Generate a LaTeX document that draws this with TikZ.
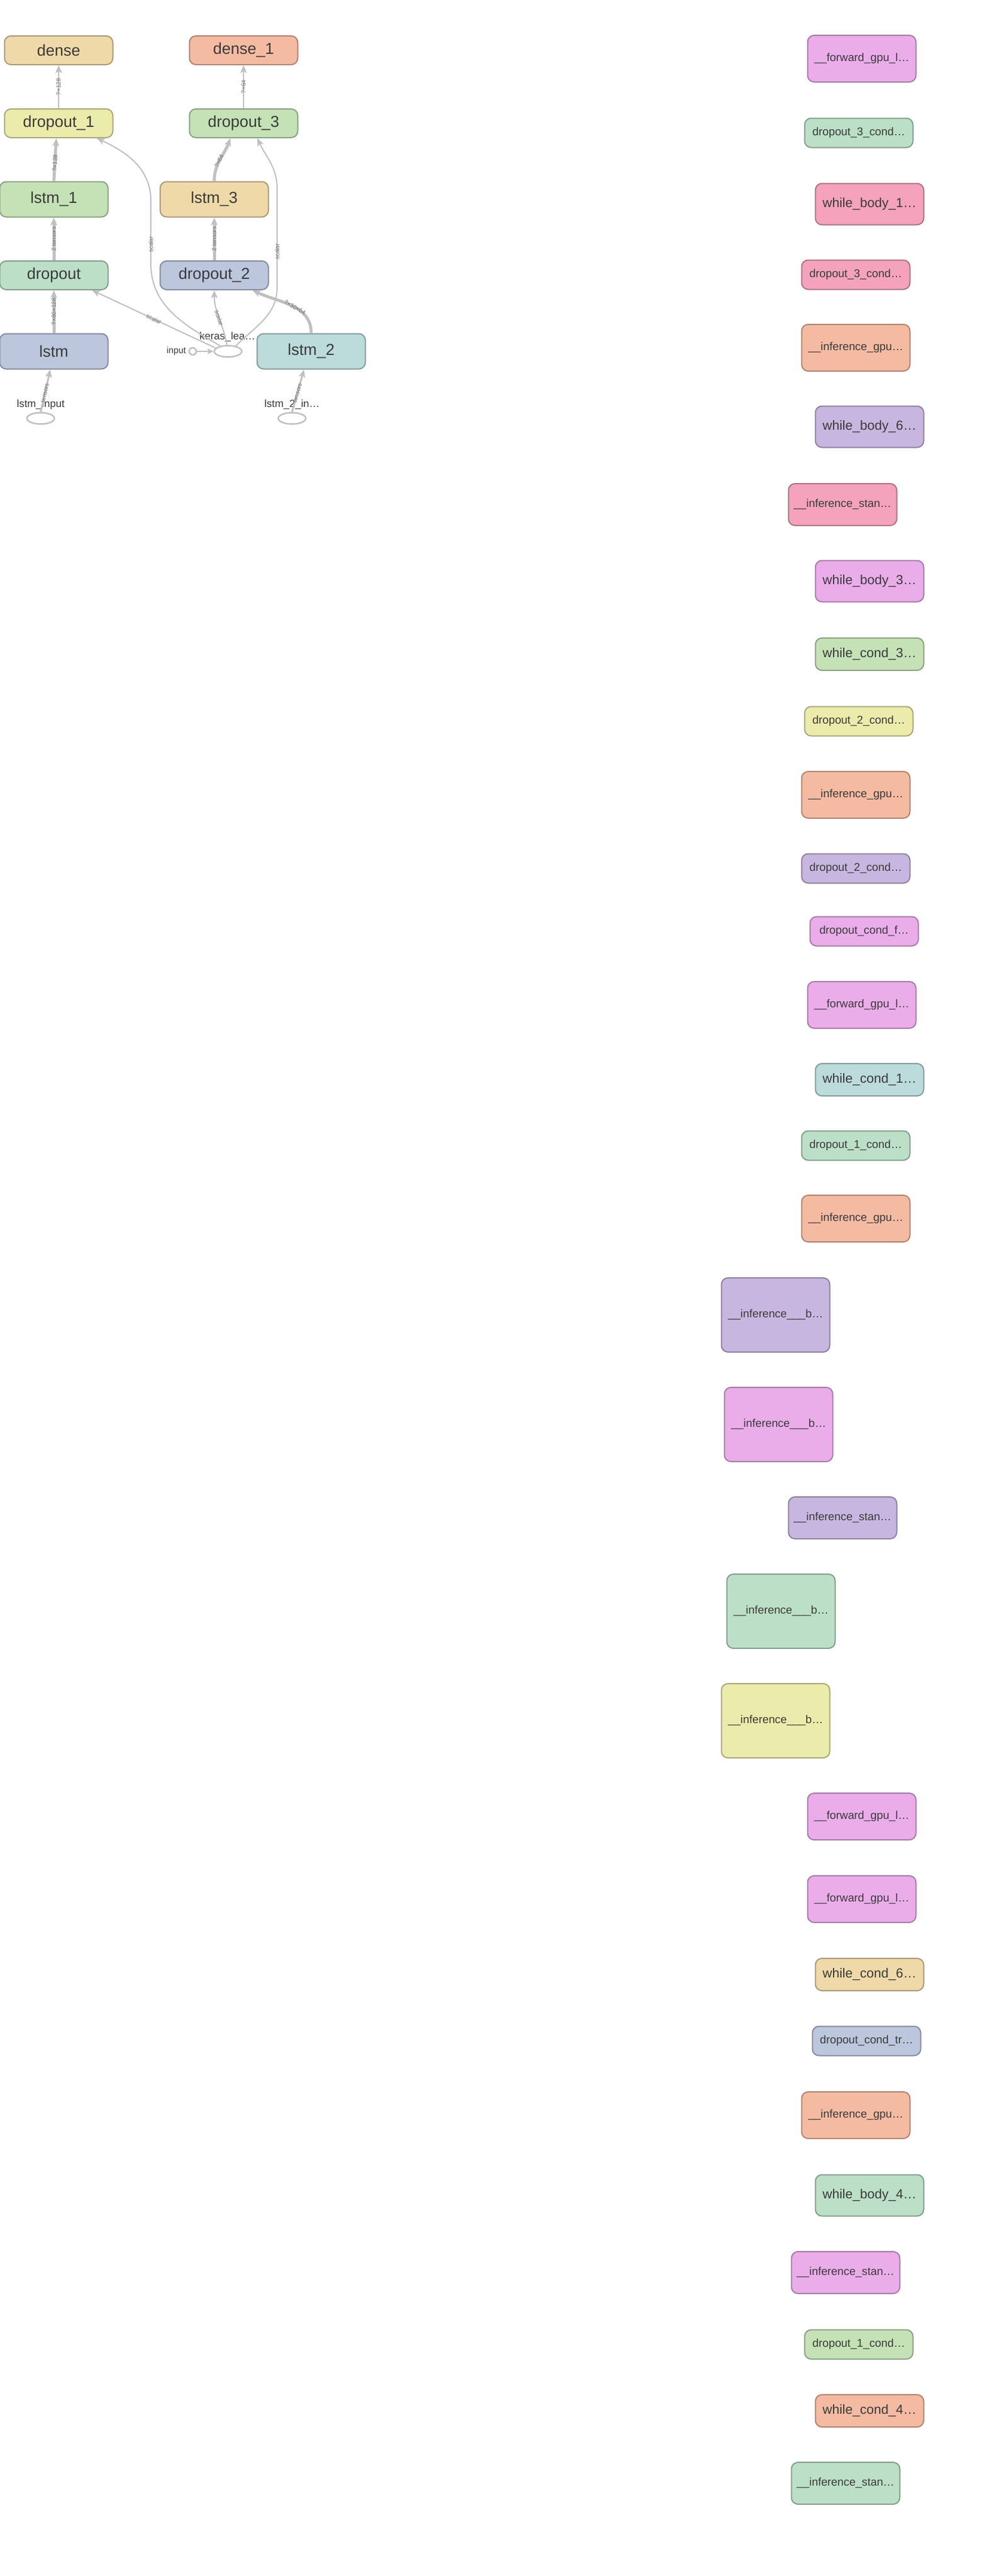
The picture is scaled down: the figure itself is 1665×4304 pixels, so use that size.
\documentclass[tikz,border=0pt]{standalone}
\usepackage{fontspec}
\setmainfont{Liberation Sans}
\setsansfont{Liberation Sans}
\usepackage{tikz}
\usetikzlibrary{arrows.meta,shapes.geometric}

\definecolor{txt}{HTML}{3A3A3A}
\definecolor{edgec}{HTML}{C0C0C0}
\definecolor{lblc}{HTML}{707070}
\definecolor{tanF}{HTML}{F0D9A8}\definecolor{tanD}{HTML}{A99A79}
\definecolor{salmonF}{HTML}{F4BBA2}\definecolor{salmonD}{HTML}{B08473}
\definecolor{yellowF}{HTML}{EBEBAB}\definecolor{yellowD}{HTML}{A8A87C}
\definecolor{greenF}{HTML}{C5E2B6}\definecolor{greenD}{HTML}{8DA084}
\definecolor{mintF}{HTML}{BCDFC7}\definecolor{mintD}{HTML}{869E8D}
\definecolor{blueF}{HTML}{BCC6DD}\definecolor{blueD}{HTML}{868C9D}
\definecolor{tealF}{HTML}{BCDBDB}\definecolor{tealD}{HTML}{869C9C}
\definecolor{violetF}{HTML}{EAADEA}\definecolor{violetD}{HTML}{A67CA6}
\definecolor{pinkF}{HTML}{F5A3BD}\definecolor{pinkD}{HTML}{AC7485}
\definecolor{purpleF}{HTML}{C7B7E0}\definecolor{purpleD}{HTML}{8E82A0}

\newcommand\fsLayer{\fontsize{26.5}{30}\selectfont}
\newcommand\fsWhile{\fontsize{22}{26}\selectfont}
\newcommand\fsFn{\fontsize{18.8}{22}\selectfont}
\newcommand\fsOp{\fontsize{17.5}{20}\selectfont}
\newcommand\fsIn{\fontsize{14.8}{17}\selectfont}
\newcommand\fsEdge{\fontsize{10}{12}\selectfont}

\begin{document}
\begin{tikzpicture}[x=1pt,y=1pt,
box/.style={draw, rounded corners=11pt, line width=2pt, inner sep=0pt, text=txt, minimum width=181pt},
layer/.style={box, minimum height=48pt, font=\fsLayer},
lstmbox/.style={box, minimum height=59pt, font=\fsLayer},
gpu/.style={box, minimum height=78pt, font=\fsFn},
cond/.style={box, minimum height=49pt, font=\fsFn},
wbody/.style={box, minimum height=69pt, font=\fsWhile},
wcond/.style={box, minimum height=54pt, font=\fsWhile},
stan/.style={box, minimum height=70pt, font=\fsFn},
big/.style={box, minimum height=124pt, font=\fsFn},
tanN/.style={fill=tanF, draw=tanD}, salmonN/.style={fill=salmonF, draw=salmonD},
yellowN/.style={fill=yellowF, draw=yellowD}, greenN/.style={fill=greenF, draw=greenD},
mintN/.style={fill=mintF, draw=mintD}, blueN/.style={fill=blueF, draw=blueD},
tealN/.style={fill=tealF, draw=tealD}, violetN/.style={fill=violetF, draw=violetD},
pinkN/.style={fill=pinkF, draw=pinkD}, purpleN/.style={fill=purpleF, draw=purpleD},
op/.style={ellipse, draw=edgec, line width=2.5pt, fill=white, minimum width=46pt, minimum height=19pt, inner sep=0pt},
oplbl/.style={font=\fsOp, text=txt, inner sep=0pt},
edge/.style={draw=edgec, line width=2pt, -{Stealth[length=13pt,width=11pt,inset=3pt]}},
mid/.style={edge, line width=3pt},
fat/.style={edge, line width=5pt},
elabel/.style={font=\fsEdge, text=lblc, inner sep=1pt, sloped}
]
\useasboundingbox (0,0) rectangle (1665,-4304);

% main graph
\node[layer, tanN] (dense) at (98,-84) {dense};
\node[layer, salmonN] (dense1) at (407,-84) {dense\_1};
\node[layer, yellowN] (drop1) at (98,-206) {dropout\_1};
\node[layer, greenN] (drop3) at (407,-206) {dropout\_3};
\node[lstmbox, greenN] (lstm1) at (90,-333) {lstm\_1};
\node[lstmbox, tanN] (lstm3) at (358,-333) {lstm\_3};
\node[layer, mintN] (drop) at (90,-460) {dropout};
\node[layer, blueN] (drop2) at (358,-460) {dropout\_2};
\node[lstmbox, blueN] (lstm) at (90,-587) {lstm};
\node[lstmbox, tealN] (lstm2) at (520,-587) {lstm\_2};

\node[op] (keras) at (381,-587) {};
\node[oplbl] (keraslbl) at (380,-563) {keras\_lea…};
\node[circle, draw=edgec, line width=2.5pt, fill=white, minimum size=12pt, inner sep=0pt] (inp) at (322,-587) {};
\node[font=\fsIn, text=txt, anchor=east, inner sep=0pt] (inplbl) at (311,-587) {input};
\node[op] (lstmin) at (68,-699) {};
\node[oplbl] (lstminlbl) at (68,-676) {lstm\_input};
\node[op] (lstm2in) at (488,-699) {};
\node[oplbl] (lstm2inlbl) at (488,-676) {lstm\_2\_in…};

\draw[edge] (drop1) -- node[elabel]{?×128} (dense);
\draw[edge] (drop3) -- node[elabel]{?×64} (dense1);
\draw[fat] (lstm1.north) -- node[elabel, pos=.42]{?×128} ([xshift=-4pt]drop1.south);
\draw[fat] (lstm3.north) to[out=90, in=-110] node[elabel, pos=.45]{?×64} ([xshift=-22pt]drop3.south);
\draw[fat] (drop.north) -- node[elabel]{2 tensors} (lstm1.south);
\draw[fat] (drop2.north) -- node[elabel]{2 tensors} (lstm3.south);
\draw[fat] (lstm.north) -- node[elabel]{?×60×128} (drop.south);
\draw[mid] (lstmin.north) -- node[elabel, pos=.45]{tensors} ([xshift=-6pt]lstm.south);
\draw[mid] (lstm2in.north) -- node[elabel, pos=.45]{tensors} ([xshift=-12pt]lstm2.south);
\draw[fat] (lstm2.north) to[out=90, in=-25] node[elabel, pos=.45]{?×30×64} ([xshift=64pt]drop2.south);
\draw[edge] (keras.165) -- node[elabel]{scalar} ([xshift=64pt]drop.south);
\draw[edge] (keras.100) to[out=100, in=-90] node[elabel]{scalar} (drop2.south);
\draw[edge] (keras.145) to[out=150, in=-90] (252,-440) -- node[elabel, pos=.3]{scalar} (252,-335) to[out=90, in=-25] ([xshift=64pt]drop1.south);
\draw[edge] (keras.35) to[out=45, in=-90] (463,-480) -- node[elabel, pos=.36]{scalar} (463,-315) to[out=90, in=-65] ([xshift=23pt]drop3.south);
\draw[edge, -{Stealth[length=10pt,width=9pt,inset=2pt]}] (inp) -- (keras);

% functions
\node[gpu, violetN] (fn1) at (1440,-98) {\_\_forward\_gpu\_l…};
\node[cond, mintN] (fn2) at (1435,-222) {dropout\_3\_cond…};
\node[wbody, pinkN] (fn3) at (1453,-341) {while\_body\_1…};
\node[cond, pinkN] (fn4) at (1430,-459) {dropout\_3\_cond…};
\node[gpu, salmonN] (fn5) at (1430,-581) {\_\_inference\_gpu…};
\node[wbody, purpleN] (fn6) at (1453,-713) {while\_body\_6…};
\node[stan, pinkN] (fn7) at (1408,-843) {\_\_inference\_stan…};
\node[wbody, violetN] (fn8) at (1453,-971) {while\_body\_3…};
\node[wcond, greenN] (fn9) at (1453,-1093) {while\_cond\_3…};
\node[cond, yellowN] (fn10) at (1435,-1205) {dropout\_2\_cond…};
\node[gpu, salmonN] (fn11) at (1430,-1328) {\_\_inference\_gpu…};
\node[cond, purpleN] (fn12) at (1430,-1451) {dropout\_2\_cond…};
\node[cond, violetN] (fn13) at (1444,-1556) {dropout\_cond\_f…};
\node[gpu, violetN] (fn14) at (1440,-1679) {\_\_forward\_gpu\_l…};
\node[wcond, tealN] (fn15) at (1453,-1804) {while\_cond\_1…};
\node[cond, mintN] (fn16) at (1430,-1914) {dropout\_1\_cond…};
\node[gpu, salmonN] (fn17) at (1430,-2036) {\_\_inference\_gpu…};
\node[big, purpleN] (fn18) at (1296,-2197) {\_\_inference\_\_\_b…};
\node[big, violetN] (fn19) at (1301,-2380) {\_\_inference\_\_\_b…};
\node[stan, purpleN] (fn20) at (1408,-2536) {\_\_inference\_stan…};
\node[big, mintN] (fn21) at (1305,-2692) {\_\_inference\_\_\_b…};
\node[big, yellowN] (fn22) at (1296,-2875) {\_\_inference\_\_\_b…};
\node[gpu, violetN] (fn23) at (1440,-3035) {\_\_forward\_gpu\_l…};
\node[gpu, violetN] (fn24) at (1440,-3173) {\_\_forward\_gpu\_l…};
\node[wcond, tanN] (fn25) at (1453,-3299) {while\_cond\_6…};
\node[cond, blueN] (fn26) at (1448,-3410) {dropout\_cond\_tr…};
\node[gpu, salmonN] (fn27) at (1430,-3534) {\_\_inference\_gpu…};
\node[wbody, mintN] (fn28) at (1453,-3668) {while\_body\_4…};
\node[stan, violetN] (fn29) at (1413,-3797) {\_\_inference\_stan…};
\node[cond, greenN] (fn30) at (1435,-3917) {dropout\_1\_cond…};
\node[wcond, salmonN] (fn31) at (1453,-4028) {while\_cond\_4…};
\node[stan, mintN] (fn32) at (1413,-4149) {\_\_inference\_stan…};
\end{tikzpicture}
\end{document}
